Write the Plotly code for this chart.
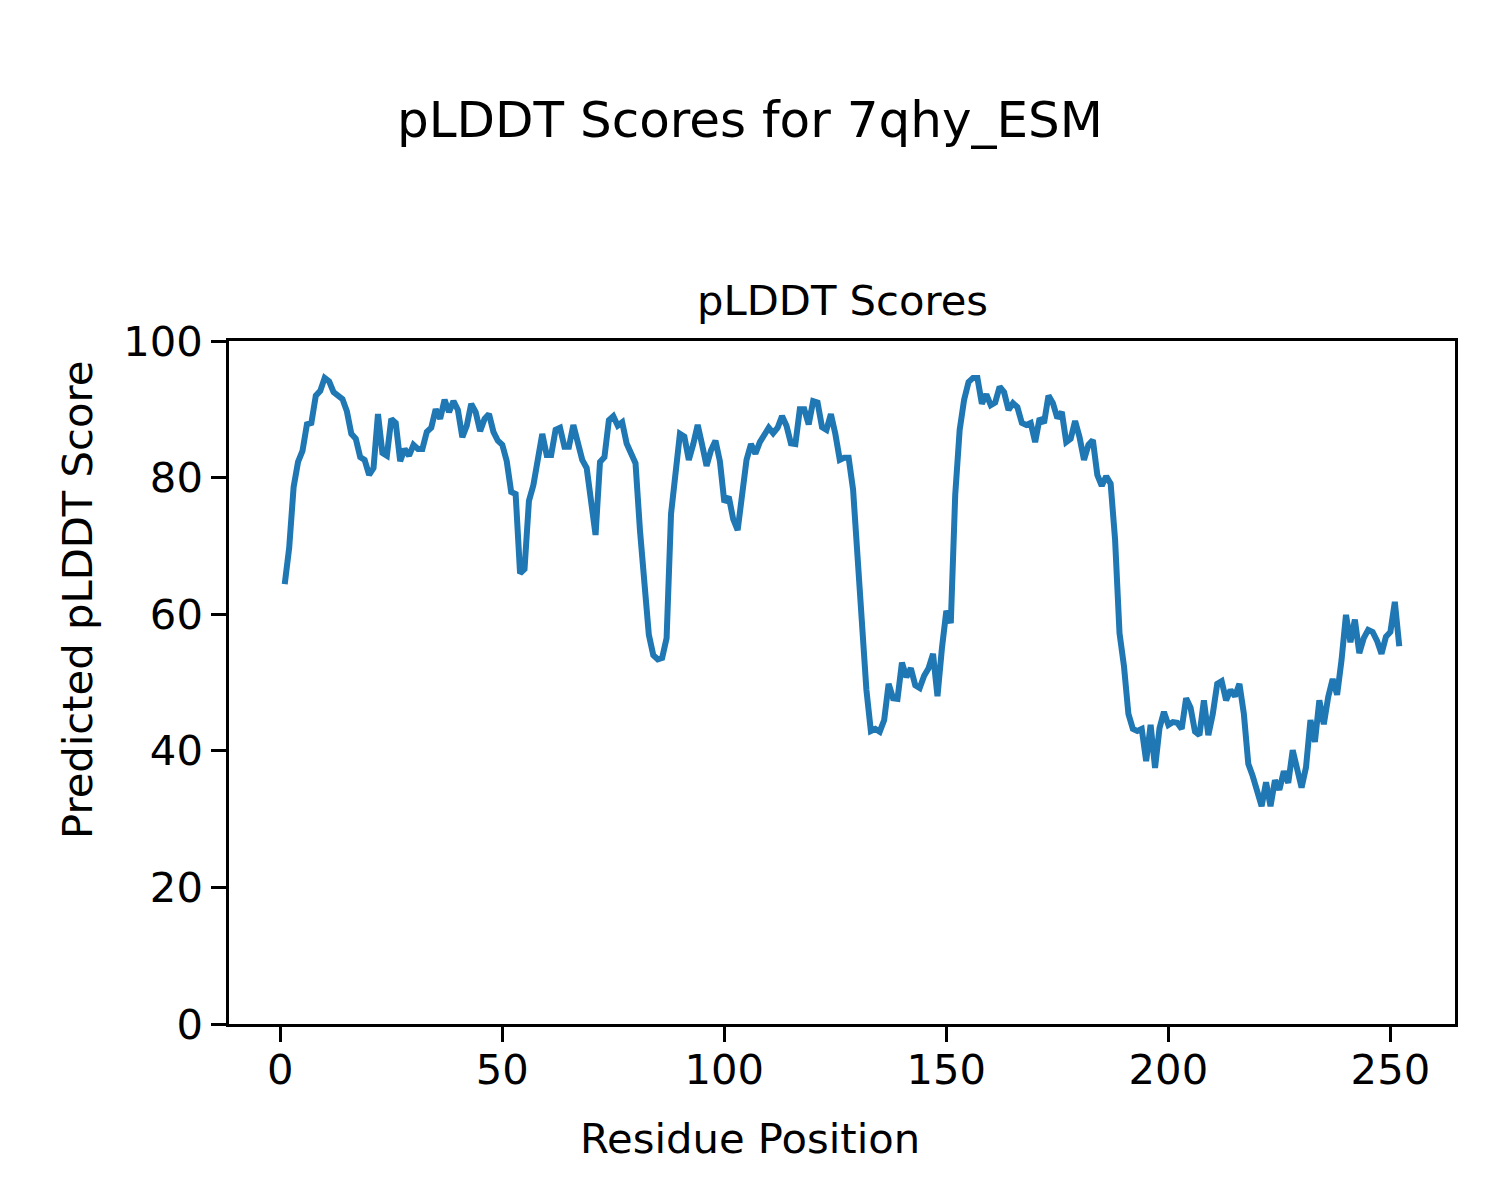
import plotly.graph_objects as go

residues = list(range(1, 253))
plddt = [
    64.4, 69.7, 78.6, 82.3, 83.9, 87.8, 88.0, 92.0, 92.7, 94.6,
    94.1, 92.5, 92.0, 91.5, 89.7, 86.4, 85.7, 83.0, 82.6, 80.4,
    81.4, 89.3, 83.6, 83.2, 88.6, 88.0, 82.4, 84.2, 83.2, 84.8,
    84.2, 84.2, 86.7, 87.3, 90.0, 88.6, 91.4, 89.6, 91.2, 89.9,
    85.9, 87.6, 90.8, 89.6, 86.8, 88.6, 89.3, 86.7, 85.4, 84.8,
    82.4, 77.9, 77.6, 66.0, 66.6, 76.6, 78.9, 82.3, 86.4, 83.3,
    83.3, 87.0, 87.3, 84.5, 84.5, 87.7, 85.4, 82.6, 81.4, 76.7,
    71.6, 82.3, 83.0, 88.4, 89.0, 87.6, 88.1, 85.0, 83.7, 82.1,
    72.3, 63.3, 57.0, 54.0, 53.4, 53.6, 56.5, 74.7, 80.5, 86.4,
    86.0, 82.6, 84.9, 87.7, 84.8, 81.7, 84.0, 85.4, 82.4, 76.4,
    77.2, 73.9, 72.3, 78.2, 82.6, 84.9, 83.5, 85.2, 86.2, 87.3,
    86.5, 87.3, 89.0, 87.6, 85.0, 84.9, 90.0, 90.0, 87.8, 91.2,
    91.0, 87.4, 87.0, 89.3, 86.4, 82.6, 82.9, 82.9, 78.2, 67.2,
    57.7, 48.9, 42.9, 43.2, 42.8, 44.5, 49.8, 47.7, 47.6, 52.9,
    50.8, 52.1, 49.6, 49.2, 51.0, 52.1, 54.2, 48.0, 55.0, 60.5,
    58.7, 77.5, 87.0, 91.4, 94.0, 94.6, 94.6, 90.8, 92.2, 90.6,
    91.0, 93.3, 92.5, 89.9, 90.9, 90.3, 88.0, 87.7, 88.0, 85.2,
    88.7, 88.0, 92.0, 90.9, 88.7, 89.6, 85.2, 85.7, 88.3, 85.9,
    82.6, 84.8, 85.5, 80.4, 78.8, 80.2, 79.1, 70.9, 57.2, 52.4,
    45.4, 43.2, 42.9, 43.2, 38.5, 43.8, 37.5, 43.3, 45.7, 43.8,
    44.2, 44.1, 43.2, 47.7, 46.3, 42.8, 42.3, 47.4, 42.3, 45.4,
    49.8, 50.2, 47.4, 48.9, 48.0, 49.8, 45.4, 38.1, 36.3, 34.3,
    31.9, 35.4, 31.9, 35.7, 34.3, 37.0, 35.3, 40.1, 37.6, 34.6,
    37.6, 44.5, 41.3, 47.4, 43.9, 47.9, 50.5, 48.2, 53.3, 59.9,
    55.9, 59.2, 54.3, 56.5, 57.7, 57.4, 56.1, 54.2, 56.7, 57.4,
    61.8, 55.3,
]
x_ticks = [0, 50, 100, 150, 200, 250]
y_ticks = [0, 20, 40, 60, 80, 100]

FONT = "DejaVu Sans"
fs = 41.7

# page body has an 8px margin; shift content so it lands at reference positions
OFF = 8
W, H = 1500 - OFF, 1200 - OFF

fig = go.Figure()
fig.add_trace(go.Scatter(x=residues, y=plddt, mode="lines",
                         line=dict(color="#1f77b4", width=6), showlegend=False))

pw, ph = 1226, 683
L = 229 - OFF
T = 341 - OFF
R = W - L - pw
B = H - T - ph

def px_x(p):
    return (p - OFF - L) / pw

def px_y(p):
    return (T + ph - (p - OFF)) / ph

axis_common = dict(showline=True, linecolor="black", linewidth=3.3, mirror=True,
                   ticks="outside", ticklen=14.6, tickwidth=3.3, tickcolor="black",
                   showgrid=False, zeroline=False,
                   tickfont=dict(family=FONT, size=fs, color="black"))

fig.update_layout(
    width=W, height=H,
    margin=dict(l=L, r=R, t=T, b=B),
    paper_bgcolor="white", plot_bgcolor="white",
    font=dict(family=FONT, color="black"),
    xaxis=dict(range=[-11.55, 264.55], tickvals=x_ticks, ticklabelstandoff=-8, **axis_common),
    yaxis=dict(range=[0, 100], tickvals=y_ticks, ticklabelstandoff=0, **axis_common),
    annotations=[
        dict(text="pLDDT Scores for 7qhy_ESM", x=px_x(750), y=px_y(120),
             xref="paper", yref="paper", xanchor="center", yanchor="middle",
             showarrow=False, font=dict(family=FONT, size=50, color="black")),
        dict(text="pLDDT Scores", x=0.5, y=px_y(300),
             xref="paper", yref="paper", xanchor="center", yanchor="middle",
             showarrow=False, font=dict(family=FONT, size=fs, color="black")),
        dict(text="Residue Position", x=px_x(750), y=px_y(1138),
             xref="paper", yref="paper", xanchor="center", yanchor="middle",
             showarrow=False, font=dict(family=FONT, size=fs, color="black")),
        dict(text="Predicted pLDDT Score", x=px_x(77), y=px_y(600), textangle=-90,
             xref="paper", yref="paper", xanchor="center", yanchor="middle",
             showarrow=False, font=dict(family=FONT, size=fs, color="black")),
    ],
)

fig.write_html("out.html")
